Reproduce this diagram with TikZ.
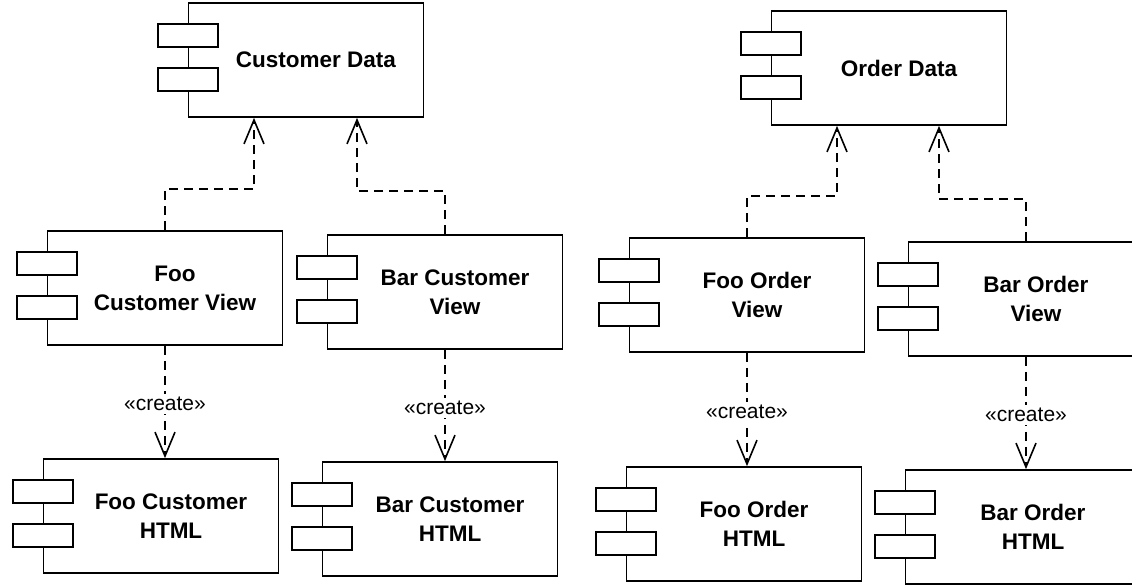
\documentclass[tikz,border=0pt]{standalone}
\usepackage{fontspec}
\newfontfamily\labfont{Liberation Sans}
\usetikzlibrary{arrows.meta}
\tikzset{
  comp/.style={draw, line width=1.7pt, minimum width=235pt, minimum height=114pt, inner sep=0pt},
  port/.style={draw, fill=white, line width=1.7pt, minimum width=60pt, minimum height=23pt, inner sep=0pt},
  lbl/.style={font=\labfont\bfseries\fontsize{22.5}{29}\selectfont, align=center, inner sep=0pt},
  dep/.style={line width=1.6pt, dash pattern=on 9pt off 6pt, -{Straight Barb[length=24pt,width=20pt,line width=1.6pt]}},
  stereo/.style={fill=white, font=\labfont\fontsize{21}{24}\selectfont, inner sep=3pt}
}
\newcommand\component[4]{%
  \node[comp] (#1) at (#2,#3) {};
  \node[port] (#1p) at ([yshift=-33pt]#1.north west) {};
  \node[port] (#1q) at ([yshift=-77.5pt]#1.north west) {};
  \node[lbl] (#1t) at ([xshift=10pt]#1.center) {#4};
}
\begin{document}
\begin{tikzpicture}[x=1pt,y=-1pt]
\clip (0,0) rectangle (1132,587);
\fill[white] (0,0) rectangle (1132,587);
\component{cd}{306}{60}{Customer Data}
\component{od}{889}{68}{Order Data}
\component{fcv}{165}{288}{Foo\\Customer View}
\component{bcv}{445}{292}{Bar Customer\\View}
\component{fch}{161}{516}{Foo Customer\\HTML}
\component{bch}{440}{519}{Bar Customer\\HTML}
\component{fov}{747}{295}{Foo Order\\View}
\component{foh}{744}{524}{Foo Order\\HTML}
\component{bov}{1026}{299}{Bar Order\\View}
\component{boh}{1023}{527}{Bar Order\\HTML}
\coordinate (cdA) at ([xshift=-52pt]cd.south);
\coordinate (cdB) at ([xshift=51pt]cd.south);
\coordinate (odA) at ([xshift=-52pt]od.south);
\coordinate (odB) at ([xshift=50pt]od.south);
\draw[dep] (fcv.north) -- ++(0,-41) -| (cdA);
\draw[dep] (bcv.north) -- ++(0,-43) -| (cdB);
\draw[dep] (fov.north) -- ++(0,-41) -| (odA);
\draw[dep] (bov.north) -- ++(0,-42) -| (odB);
\draw[dep] (fcv.south) -- (fcv.south |- fch.north) node[stereo, pos=0.52] {«create»};
\draw[dep] (bcv.south) -- (bcv.south |- bch.north) node[stereo, pos=0.52] {«create»};
\draw[dep] (fov.south) -- (fov.south |- foh.north) node[stereo, pos=0.52] {«create»};
\draw[dep] (bov.south) -- (bov.south |- boh.north) node[stereo, pos=0.52] {«create»};
\end{tikzpicture}
\end{document}
